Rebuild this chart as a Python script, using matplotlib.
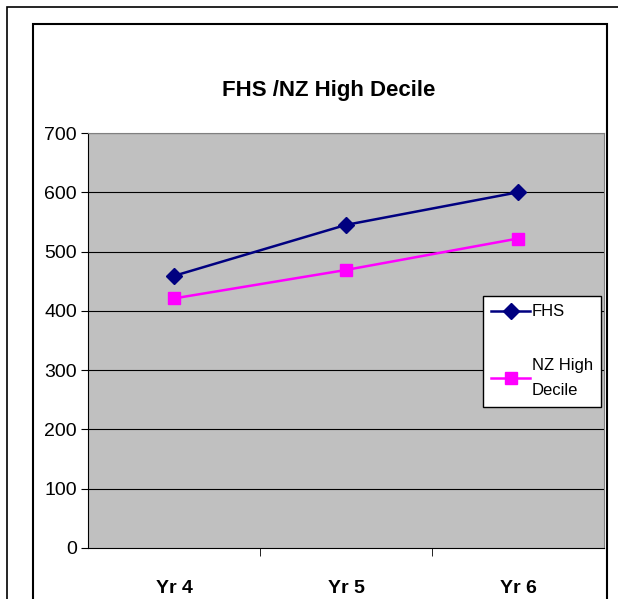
import matplotlib
matplotlib.use("Agg")
import matplotlib.pyplot as plt
from matplotlib.patches import Rectangle

plt.rcParams["font.family"] = ["Liberation Sans", "DejaVu Sans"]

categories = ["Yr 4", "Yr 5", "Yr 6"]
fhs = [459, 545, 600]
nz_high_decile = [421, 469, 522]
yticks = [0, 100, 200, 300, 400, 500, 600, 700]

W, H = 618, 599
fig = plt.figure(figsize=(W / 100, H / 100), dpi=100)

# outer page frame and chart frame
fig.patches.append(Rectangle((7 / W, -0.1), 1.2, (H - 7) / H + 0.1, transform=fig.transFigure,
                             fill=False, edgecolor="black", linewidth=1.2))
fig.patches.append(Rectangle((33 / W, -0.1), (607 - 33) / W, (H - 24) / H + 0.1, transform=fig.transFigure,
                             fill=False, edgecolor="black", linewidth=1.5))

ax = fig.add_axes([88 / W, (H - 548) / H, (604 - 88) / W, (548 - 133) / H])
ax.set_facecolor("#c0c0c0")
x = list(range(len(categories)))
ax.plot(x, fhs, color="#000080", marker="D", markersize=8, linewidth=1.8, label="FHS")
ax.plot(x, nz_high_decile, color="#ff00ff", marker="s", markersize=9, linewidth=1.8, label="NZ High\nDecile")

ax.set_xlim(-0.5, 2.5)
ax.set_ylim(0, 700)
ax.set_yticks(yticks)
ax.tick_params(axis="y", direction="out", length=5, labelsize=14, pad=3)
for y in yticks[1:]:
    ax.axhline(y, color="black", linewidth=0.8, zorder=1)

ax.set_xticks(x, categories, fontweight="bold")
ax.tick_params(axis="x", length=0, labelsize=14, pad=23)
ax.set_xticks([0.5, 1.5], minor=True)
ax.tick_params(axis="x", which="minor", direction="out", length=6)

for side in ["top", "right"]:
    ax.spines[side].set_color("#808080")
for side in ["left", "bottom"]:
    ax.spines[side].set_color("black")

fig.text(329 / W, 1 - 90 / H, "FHS /NZ High Decile", ha="center", va="center",
         fontsize=16, fontweight="bold")

leg = ax.legend(loc="upper left", bbox_to_anchor=(483 / W, 1 - 296 / H), bbox_transform=fig.transFigure,
                frameon=True, fancybox=False, framealpha=1, edgecolor="black", fontsize=12,
                handlelength=2.3, labelspacing=2.3, borderpad=0.5, handletextpad=0.12,
                borderaxespad=0)
leg.get_frame().set_linewidth(1.0)
leg.get_texts()[1].set_linespacing(1.9)

fig.savefig("out.png", dpi=100)
